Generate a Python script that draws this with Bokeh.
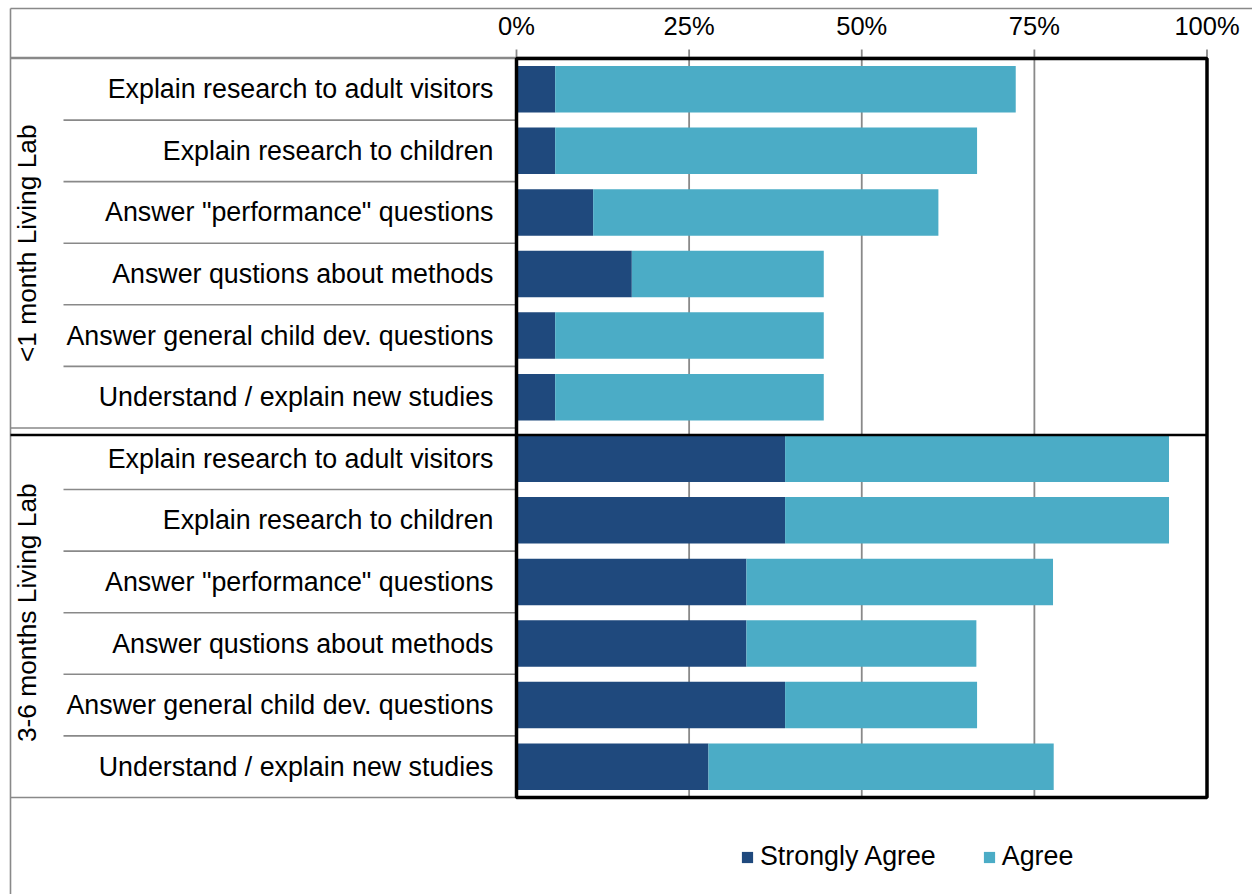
import math
from bokeh.plotting import figure
from bokeh.models import Range1d, Legend, LegendItem, ColumnDataSource
from bokeh.core.properties import value
from bokeh.embed import file_html
from bokeh.resources import INLINE

# ---------------- data ----------------
groups = ["<1 month Living Lab", "3-6 months Living Lab"]
tasks = [
    "Explain research to adult visitors",
    "Explain research to children",
    'Answer "performance" questions',
    "Answer qustions about methods",
    "Answer general child dev. questions",
    "Understand / explain new studies",
]
series = ["Strongly Agree", "Agree"]
colors = ["#1F497D", "#4BACC6"]

strongly_agree_lt1 = [5.6, 5.6, 11.1, 16.7, 5.6, 5.6]
agree_lt1 = [66.7, 61.1, 50.0, 27.8, 38.9, 38.9]
strongly_agree_3to6 = [38.9, 38.9, 33.3, 33.3, 38.9, 27.8]
agree_3to6 = [55.6, 55.6, 44.4, 33.3, 27.8, 50.0]

x_ticks = [0, 25, 50, 75, 100]
x_tick_labels = ["0%", "25%", "50%", "75%", "100%"]

# ---------------- layout (screen px) ----------------
W, H = 1252, 894
PLOT_L = 516.0        # px of 0 %
PX_PER_PCT = 6.905    # px per percent
PLOT_T = 58.0         # px of plot top
ROW_H = 61.58         # px per category row
FONT = value("Liberation Sans")
GRAY = "#898989"


def dx(px):
    return (px - PLOT_L) / PX_PER_PCT


def dy(py):
    return (py - PLOT_T) / ROW_H


n_rows = len(tasks) * len(groups)

p = figure(
    width=W, height=H,
    x_range=Range1d(dx(0), dx(W)),
    y_range=Range1d(dy(H), dy(0)),
    x_axis_type=None, y_axis_type=None,
    output_backend="svg", toolbar_location=None,
    min_border=0,
)
p.outline_line_color = None
p.background_fill_color = "white"
p.border_fill_color = "white"

# outer frame lines (chart area border)
p.segment(x0=[dx(10), dx(10)], y0=[dy(8), dy(8)], x1=[dx(W), dx(10)], y1=[dy(8), dy(H)],
          line_color=GRAY, line_width=1.6)

# vertical gridlines
p.segment(x0=x_ticks[1:-1], y0=0, x1=x_ticks[1:-1], y1=n_rows, line_color=GRAY, line_width=1.8)
# tick marks above plot
p.segment(x0=x_ticks, y0=dy(49), x1=x_ticks, y1=dy(58), line_color=GRAY, line_width=1.8)
# top axis line
p.segment(x0=[dx(10)], y0=[dy(57)], x1=[100], y1=[dy(57)], line_color=GRAY, line_width=1.6)

# category separators in label area
inner = [k for k in range(1, n_rows) if k % len(tasks) != 0]
outer = [k for k in range(0, n_rows + 1) if k % len(tasks) == 0]
p.segment(x0=dx(63), y0=inner, x1=0, y1=inner, line_color=GRAY, line_width=1.6)
p.segment(x0=dx(10), y0=outer, x1=0, y1=outer, line_color=GRAY, line_width=1.6)

# bars
rows = [i + 0.5 for i in range(n_rows)]
sa = strongly_agree_lt1 + strongly_agree_3to6
ag = agree_lt1 + agree_3to6
total = [a + b for a, b in zip(sa, ag)]
src = ColumnDataSource(dict(y=rows, sa=sa, total=total))
r1 = p.hbar(y="y", left=0, right="sa", height=0.755, source=src,
            fill_color=colors[0], line_color=None)
r2 = p.hbar(y="y", left="sa", right="total", height=0.755, source=src,
            fill_color=colors[1], line_color=None)

# plot area border
p.quad(left=[0], right=[100], top=[0], bottom=[n_rows], fill_color=None,
       line_color="black", line_width=3.5)
# group divider line
grp_line_y = len(tasks) + 7.0 / ROW_H
p.segment(x0=[dx(10)], y0=[grp_line_y], x1=[100], y1=[grp_line_y],
          line_color="black", line_width=2.5)

# category labels
p.text(x=[dx(493)] * n_rows, y=rows, text=tasks * len(groups),
       text_align="right", text_baseline="middle",
       text_font=FONT, text_font_size="26.8px", text_color="#000000")

# group labels (rotated)
grp_centers = [len(tasks) * (g + 0.5) for g in range(len(groups))]
p.text(x=[dx(26)] * len(groups), y=grp_centers, text=groups, angle=math.pi / 2,
       text_align="center", text_baseline="middle",
       text_font=FONT, text_font_size="26.3px", text_color="#000000")

# x tick labels (top)
p.text(x=x_ticks, y=[dy(25)] * len(x_ticks), text=x_tick_labels,
       text_align="center", text_baseline="middle",
       text_font=FONT, text_font_size="25.5px", text_color="#000000")

legend = Legend(
    items=[LegendItem(label=series[0], renderers=[r1]),
           LegendItem(label=series[1], renderers=[r2])],
    orientation="horizontal", location=(740, 22),
    glyph_width=14, glyph_height=14, label_standoff=6, spacing=46,
    padding=0, margin=0, border_line_color=None, background_fill_alpha=0,
    label_text_font="Liberation Sans", label_text_font_size="26.8px",
    label_text_color="#000000",
)
p.add_layout(legend)

open("out.html", "w").write(file_html(p, INLINE))
